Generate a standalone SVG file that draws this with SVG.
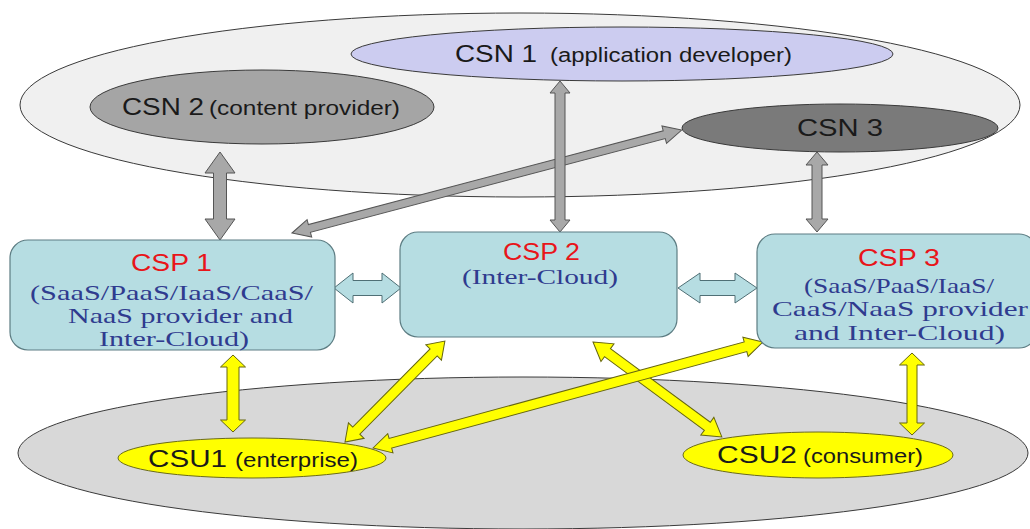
<svg xmlns="http://www.w3.org/2000/svg" width="1030" height="529" viewBox="0 0 1030 529">
  <style>
    .zone { stroke: #3a3a3a; stroke-width: 1; }
    .csn { stroke: #3a3a3a; stroke-width: 1; }
    .box { fill: #b6dde2; stroke: #5d7d83; stroke-width: 1.2; }
    .csu { fill: #ffff00; stroke: #6b6b1a; stroke-width: 1; }
    .arr-gray { fill: #a8a8a8; stroke: #555; stroke-width: 1; }
    .arr-teal { fill: #b6dde2; stroke: #4f6f75; stroke-width: 1; }
    .arr-yel { fill: #ffff00; stroke: #66660f; stroke-width: 1; }
    .sans { font-family: "Liberation Sans", Arial, sans-serif; fill: #1a1a1a; }
    .big { font-size: 24px; }
    .small { font-size: 20px; }
    .red { font-family: "Liberation Sans", Arial, sans-serif; font-size: 24px; fill: #e8151a; }
    .serif { font-family: "Liberation Serif", "Times New Roman", serif; font-size: 22px; fill: #2f3b8f; }
  </style>

  <!-- service-provider / user domains -->
  <ellipse class="zone" cx="520" cy="105" rx="500" ry="92" fill="#f0f0f0"/>
  <ellipse class="zone" cx="523" cy="453" rx="505" ry="76" fill="#d8d8d8"/>

  <!-- connectors -->
  <g id="connectors">
    <polygon class="arr-gray" transform="translate(292,233) rotate(-14.79)" points="0,0 18,-9 18,-4 385,-4 385,-9 403,0 385,9 385,4 18,4 18,9"/>
    <polygon class="arr-gray" transform="translate(220,152) rotate(90)" points="0,0 21,-15 21,-6.5 67,-6.5 67,-15 88,0 67,15 67,6.5 21,6.5 21,15"/>
    <polygon class="arr-gray" transform="translate(560,81) rotate(90)" points="0,0 12,-10 12,-5 139,-5 139,-10 151,0 139,10 139,5 12,5 12,10"/>
    <polygon class="arr-gray" transform="translate(817,152) rotate(90)" points="0,0 13,-11 13,-5 67,-5 67,-11 80,0 67,11 67,5 13,5 13,11"/>
    <polygon class="arr-teal" transform="translate(334,288)" points="0,0 19,-15 19,-7.5 48,-7.5 48,-15 67,0 48,15 48,7.5 19,7.5 19,15"/>
    <polygon class="arr-teal" transform="translate(678,288)" points="0,0 22,-15 22,-7.5 57,-7.5 57,-15 79,0 57,15 57,7.5 22,7.5 22,15"/>
    <polygon class="arr-yel" transform="translate(233,355) rotate(90)" points="0,0 12,-12.5 12,-6 65,-6 65,-12.5 77,0 65,12.5 65,6 12,6 12,12.5"/>
    <polygon class="arr-yel" transform="translate(345,442) rotate(-45.3)" points="0,0 16,-11 16,-5 126,-5 126,-11 142,0 126,11 126,5 16,5 16,11"/>
    <polygon class="arr-yel" transform="translate(593,342) rotate(36.37)" points="0,0 18,-11 18,-5 142,-5 142,-11 160,0 142,11 142,5 18,5 18,11"/>
    <polygon class="arr-yel" transform="translate(373,448) rotate(-15.2)" points="0,0 18,-10 18,-5 386,-5 386,-10 404,0 386,10 386,5 18,5 18,10"/>
    <polygon class="arr-yel" transform="translate(912,353) rotate(90)" points="0,0 12,-12.5 12,-5 70,-5 70,-12.5 82,0 70,12.5 70,5 12,5 12,12.5"/>
  </g>

  <g id="csn1">
    <ellipse class="csn" cx="622" cy="54" rx="271" ry="27" fill="#ccccf0"/>
    <text class="sans big" x="455" y="62" textLength="82" lengthAdjust="spacingAndGlyphs">CSN 1</text>
    <text class="sans small" x="550" y="62" textLength="242" lengthAdjust="spacingAndGlyphs">(application developer)</text>
  </g>

  <g id="csn2">
    <ellipse class="csn" cx="262" cy="107" rx="172" ry="37" fill="#a5a5a5"/>
    <text class="sans big" x="122" y="115" textLength="82" lengthAdjust="spacingAndGlyphs">CSN 2</text>
    <text class="sans small" x="209" y="115" textLength="191" lengthAdjust="spacingAndGlyphs">(content provider)</text>
  </g>

  <g id="csn3">
    <ellipse class="csn" cx="840" cy="128" rx="158" ry="24" fill="#7a7a7a"/>
    <text class="sans big" x="797" y="136" textLength="86" lengthAdjust="spacingAndGlyphs">CSN 3</text>
  </g>

  <g id="csp1">
    <rect class="box" x="10" y="240" width="325" height="110" rx="18"/>
    <text class="red" x="131" y="271" textLength="81" lengthAdjust="spacingAndGlyphs">CSP 1</text>
    <text class="serif" x="30" y="300" textLength="283" lengthAdjust="spacingAndGlyphs">(SaaS/PaaS/IaaS/CaaS/</text>
    <text class="serif" x="68" y="323" textLength="225" lengthAdjust="spacingAndGlyphs">NaaS provider and</text>
    <text class="serif" x="99" y="346" textLength="150" lengthAdjust="spacingAndGlyphs">Inter-Cloud)</text>
  </g>

  <g id="csp2">
    <rect class="box" x="400" y="232" width="277" height="105" rx="18"/>
    <text class="red" x="503" y="260" textLength="77" lengthAdjust="spacingAndGlyphs">CSP 2</text>
    <text class="serif" x="462" y="284" textLength="156" lengthAdjust="spacingAndGlyphs">(Inter-Cloud)</text>
  </g>

  <g id="csp3">
    <rect class="box" x="757" y="234" width="280" height="114" rx="18"/>
    <text class="red" x="858" y="266" textLength="82" lengthAdjust="spacingAndGlyphs">CSP 3</text>
    <text class="serif" x="804" y="293" textLength="190" lengthAdjust="spacingAndGlyphs">(SaaS/PaaS/IaaS/</text>
    <text class="serif" x="772" y="316" textLength="256" lengthAdjust="spacingAndGlyphs">CaaS/NaaS provider</text>
    <text class="serif" x="794" y="340" textLength="211" lengthAdjust="spacingAndGlyphs">and Inter-Cloud)</text>
  </g>

  <g id="csu1">
    <ellipse class="csu" cx="252" cy="458" rx="134" ry="20"/>
    <text class="sans big" x="148" y="467" textLength="79" lengthAdjust="spacingAndGlyphs">CSU1</text>
    <text class="sans small" x="235" y="467" textLength="123" lengthAdjust="spacingAndGlyphs">(enterprise)</text>
  </g>

  <g id="csu2">
    <ellipse class="csu" cx="818" cy="455" rx="135" ry="23"/>
    <text class="sans big" x="717" y="463" textLength="80" lengthAdjust="spacingAndGlyphs">CSU2</text>
    <text class="sans small" x="803" y="463" textLength="120" lengthAdjust="spacingAndGlyphs">(consumer)</text>
  </g>
</svg>
